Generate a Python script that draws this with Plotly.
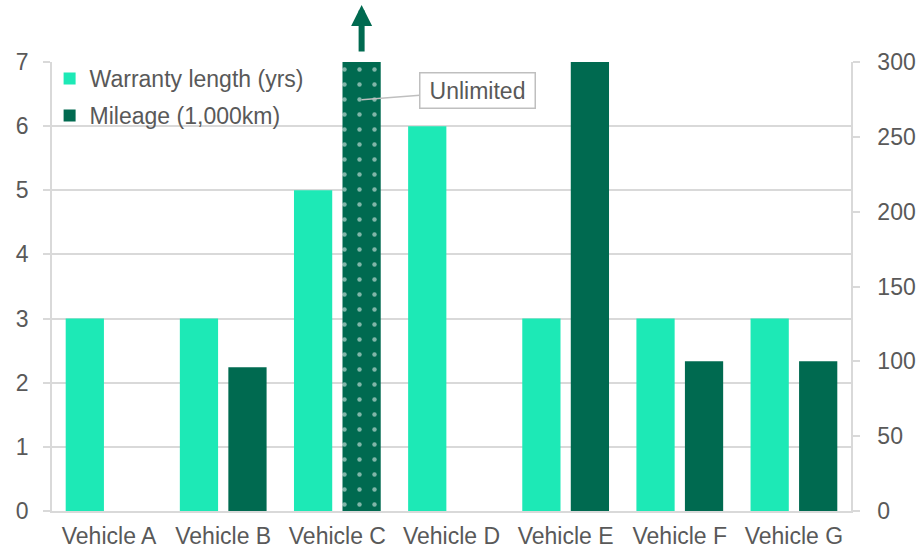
import plotly.graph_objects as go

categories = ["Vehicle A", "Vehicle B", "Vehicle C", "Vehicle D", "Vehicle E", "Vehicle F", "Vehicle G"]
warranty_years = [3, 3, 5, 6, 3, 3, 3]
mileage_1000km = [None, 96, None, None, 300, 100, 100]
unlimited_mileage = [None, None, 300, None, None, None, None]  # drawn to axis top
left_ticks = [0, 1, 2, 3, 4, 5, 6, 7]
right_ticks = [0, 50, 100, 150, 200, 250, 300]

LIGHT = "#1DE9B6"
DARK = "#006A50"
GRID = "#D9D9D9"
TXT = "#595959"
FONT = "Liberation Sans, Arial, sans-serif"
FS = 23

BW = 0.335
OFF_W = -0.38
OFF_M = 0.045

fig = go.Figure()
fig.add_trace(go.Bar(
    x=categories, y=warranty_years, name="Warranty length (yrs)",
    marker=dict(color=LIGHT, line=dict(width=0)),
    width=BW, offset=OFF_W, yaxis="y", legendgroup="a",
))
fig.add_trace(go.Bar(
    x=categories, y=mileage_1000km, name="Mileage (1,000km)",
    marker=dict(color=DARK, line=dict(width=0)),
    width=BW, offset=OFF_M, yaxis="y2", legendgroup="b",
))
fig.add_trace(go.Bar(
    x=categories, y=unlimited_mileage, name="Unlimited", showlegend=False,
    marker=dict(color=DARK, line=dict(width=0),
                pattern=dict(shape=".", fgcolor="white", bgcolor=DARK, size=15, solidity=0.07)),
    width=BW, offset=OFF_M, yaxis="y2",
))

c_idx = categories.index("Vehicle C")
c_center = c_idx + OFF_M + BW / 2

fig.add_annotation(
    x=c_center, y=(511 - 5) / 449, xref="x", yref="paper",
    ax=0, ay=48, axref="pixel", ayref="pixel",
    showarrow=True, arrowhead=2, arrowsize=0.7, arrowwidth=6, arrowcolor=DARK, text="",
)
fig.add_annotation(
    x=c_center, y=6.41, xref="x", yref="y",
    ax=116, ay=-9, text="Unlimited", showarrow=True, arrowhead=0,
    arrowcolor="#BFBFBF", arrowwidth=1.5,
    bordercolor="#BFBFBF", borderwidth=1.5, borderpad=4, bgcolor="white",
    width=106, height=26,
    font=dict(family=FONT, size=FS, color=TXT),
)

fig.update_layout(
    width=916, height=549,
    margin=dict(l=52, r=65, t=62, b=38, autoexpand=False),
    paper_bgcolor="white", plot_bgcolor="white",
    font=dict(family=FONT, size=FS, color=TXT),
    barmode="overlay",
    showlegend=True,
    legend=dict(x=-0.003, y=1.011, xanchor="left", yanchor="top", bgcolor="rgba(0,0,0,0)",
                font=dict(family=FONT, size=FS, color=TXT), tracegroupgap=4,
                itemwidth=30),
    xaxis=dict(showgrid=False, showline=True, linecolor=GRID, linewidth=1.5, automargin=False,
               ticks="", ticklabelstandoff=4, tickfont=dict(size=FS, color=TXT)),
    yaxis=dict(range=[0, 7], tickvals=left_ticks, showgrid=True, gridcolor=GRID, gridwidth=1.5,
               showline=True, linecolor=GRID, linewidth=1.5, ticks="outside", ticklen=7,
               tickcolor=GRID, tickwidth=1.5, zeroline=False, automargin=False,
               ticklabelstandoff=10, tickfont=dict(size=FS, color=TXT)),
    yaxis2=dict(range=[0, 300], tickvals=right_ticks, overlaying="y", side="right",
                showgrid=False, showline=True, linecolor=GRID, linewidth=1.5, ticks="outside",
                ticklen=7, tickcolor=GRID, tickwidth=1.5, zeroline=False, automargin=False,
                ticklabelstandoff=13, tickfont=dict(size=FS, color=TXT)),
)

fig.write_html("out.html", config={"displayModeBar": False},
               post_script="document.body.style.margin='0';document.body.style.overflow='hidden';")
